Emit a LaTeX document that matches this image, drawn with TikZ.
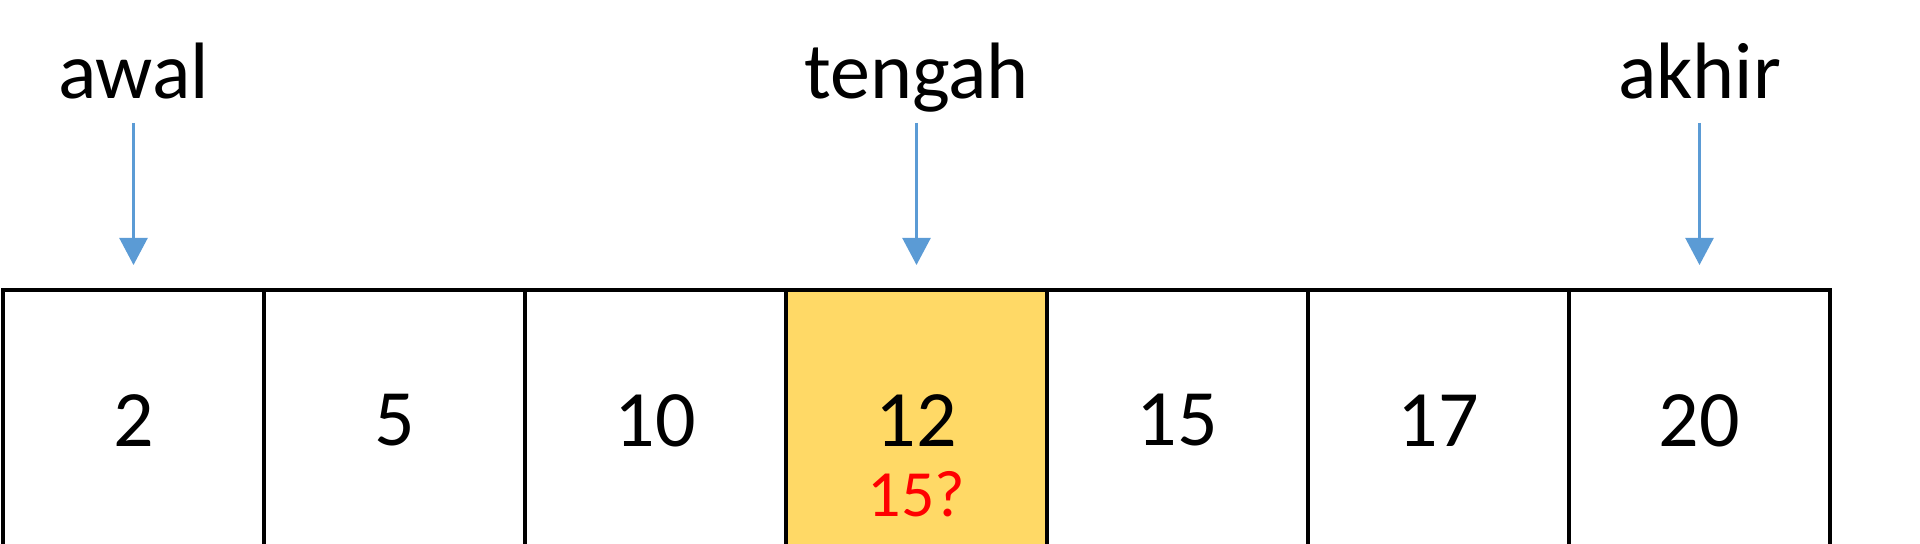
\documentclass[tikz,border=0pt]{standalone}
\usepackage{fontspec}
\setmainfont{Carlito}
\usetikzlibrary
  {
    arrows.meta,  % sized arrow heads
    positioning,  % place nodes relative to other nodes
  }
\definecolor{cellgold}{HTML}{FFD966}
\definecolor{pointerblue}{HTML}{5B9BD5}

\begin{document}
\begin{tikzpicture}
    [
      x=0.5pt, y=0.5pt,
      node distance=0pt,
      cell/.style=
        {
          rectangle,
          minimum width=130.5pt,
          minimum height=130.5pt,
          outer sep=0pt,
          line width=2pt,
          draw=black,
          font=\fontsize{40pt}{48pt}\selectfont,
        },
      marker/.style=
        {
          anchor=base,
          font=\fontsize{40pt}{48pt}\selectfont,
        },
      pointer/.style=
        {
          line width=1.2pt,
          draw=pointerblue,
          -{Triangle[length=13.5pt,width=14pt]},
        },
      guess/.style=
        {
          anchor=base,
          text=red,
          font=\fontsize{33pt}{40pt}\selectfont,
        },
    ]
    \clip (0,0) rectangle (1920,544);

    % the array
    \node (c1) [cell] at (133.5,123.5) {2};
    \node (c2) [cell, right=of c1] {5};
    \node (c3) [cell, right=of c2] {10};
    \node (c4) [cell, right=of c3, fill=cellgold] {12};
    \node (c5) [cell, right=of c4] {15};
    \node (c6) [cell, right=of c5] {17};
    \node (c7) [cell, right=of c6] {20};

    \node (look) [guess] at (c4.center |- 0,27) {15?};

    % the three pointers
    \node (awal) [marker] at ([yshift=95.5pt]c1.north) {awal};
    \node (tengah) [marker] at ([yshift=95.5pt]c4.north) {tengah};
    \node (akhir) [marker] at ([yshift=95.5pt]c7.north) {akhir};

    \draw [pointer] ([yshift=-12pt]awal.base) -- ([yshift=12.5pt]c1.north);
    \draw [pointer] ([yshift=-12pt]tengah.base) -- ([yshift=12.5pt]c4.north);
    \draw [pointer] ([yshift=-12pt]akhir.base) -- ([yshift=12.5pt]c7.north);
  \end{tikzpicture}
\end{document}
